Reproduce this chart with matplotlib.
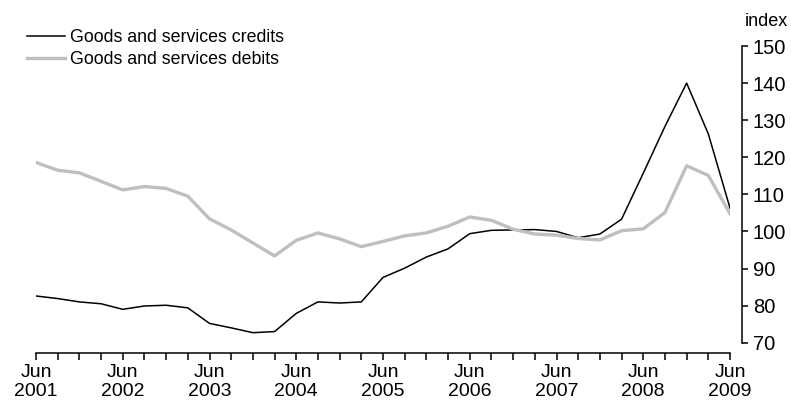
import matplotlib
matplotlib.use("Agg")
import matplotlib.pyplot as plt

plt.rcParams['font.family'] = ['Liberation Sans', 'DejaVu Sans']

years = list(range(2001, 2010))
quarters = 33  # Jun 2001 .. Jun 2009
credits = [82.6, 81.9, 81.0, 80.5, 79.0, 79.9, 80.1, 79.4, 75.2, 74.0,
           72.7, 73.0, 77.9, 81.0, 80.7, 81.0, 87.6, 90.1, 93.1, 95.3,
           99.4, 100.3, 100.4, 100.5, 100.0, 98.3, 99.3, 103.3, 115.7, 128.3,
           140.0, 126.3, 106.3]
debits = [118.6, 116.5, 115.8, 113.5, 111.2, 112.1, 111.6, 109.5, 103.4, 100.4,
          96.9, 93.4, 97.6, 99.6, 98.0, 95.9, 97.3, 98.8, 99.6, 101.4,
          103.9, 103.0, 100.6, 99.3, 99.0, 98.1, 97.7, 100.2, 100.7, 105.1,
          117.7, 115.1, 104.8]
yticks = [70, 80, 90, 100, 110, 120, 130, 140, 150]

W, H = 791, 407
fig = plt.figure(figsize=(W / 100, H / 100), dpi=100)
ax = fig.add_axes([36 / W, (H - 342.7) / H, (730 - 36) / W, (342.7 - 46) / H])

x = list(range(quarters))
l1, = ax.plot(x, credits, color='black', lw=1.1, label='Goods and services credits')
l2, = ax.plot(x, debits, color='#bfbfbf', lw=2.4, label='Goods and services debits')

ax.set_xlim(0, quarters - 1)
ax.set_ylim(70, 150)

for s in ['top', 'left']:
    ax.spines[s].set_visible(False)
ax.spines['right'].set_position(('outward', 8.3))
ax.spines['bottom'].set_position(('outward', 7.6))
ax.spines['right'].set_linewidth(1.1)
ax.spines['bottom'].set_linewidth(1.1)

ax.yaxis.tick_right()
ax.set_yticks(yticks)
ax.set_yticklabels([str(v) for v in yticks])
ax.tick_params(axis='y', direction='out', length=4, width=1.1, labelsize=14.5, pad=4)

ax.set_xticks(x)
labels = []
for i in x:
    if i % 4 == 0:
        labels.append('Jun\n' + str(years[i // 4]))
    else:
        labels.append('')
ax.set_xticklabels(labels, linespacing=1.15)
ax.tick_params(axis='x', direction='out', length=5, width=1.1, labelsize=14, pad=3)

fig.text(766 / W, (H - 22) / H, 'index', fontsize=13, ha='center', va='center')

leg = ax.legend(handles=[l1, l2], loc='upper left', bbox_to_anchor=(27 / W, (H - 29) / H),
                bbox_transform=fig.transFigure, frameon=False, fontsize=12.8,
                handlelength=2.15, handletextpad=0.28, labelspacing=0.3, borderpad=0,
                borderaxespad=0)

fig.savefig('out.png', dpi=100)
